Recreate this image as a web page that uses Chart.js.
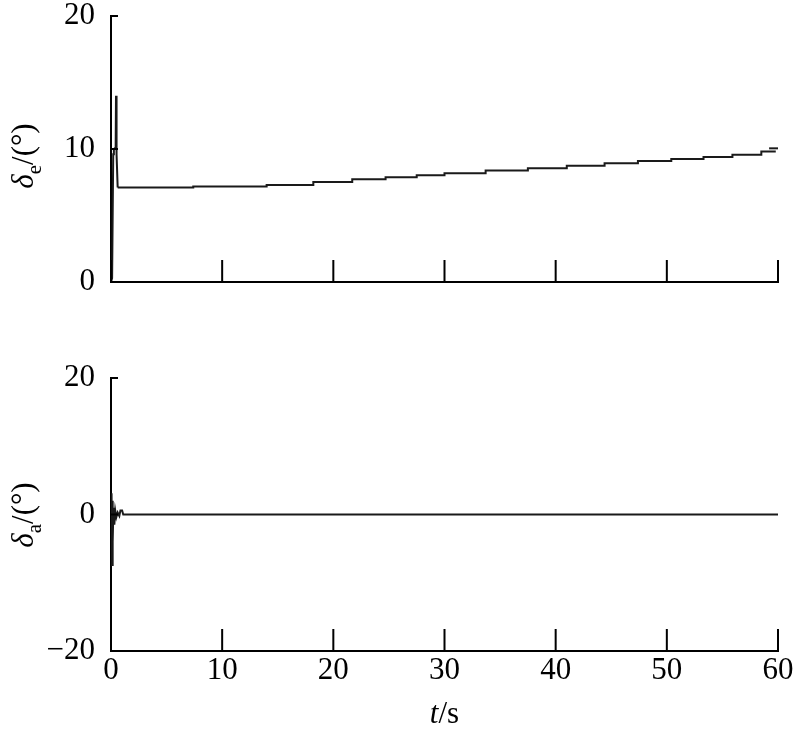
<!DOCTYPE html>
<html>
<head>
<meta charset="utf-8">
<script src="https://cdn.jsdelivr.net/npm/chart.js@4/dist/chart.umd.min.js"></script>
<style>
  body { margin: 0; background: #fff; }
  #wrap { position: relative; width: 800px; height: 734px; }
  #topBox { position: absolute; left: 0; top: 0; width: 800px; height: 330px; }
  #botBox { position: absolute; left: 0; top: 330px; width: 800px; height: 404px; }
</style>
</head>
<body>
<div id="wrap">
  <div id="topBox"><canvas id="elevChart" width="800" height="330"></canvas></div>
  <div id="botBox"><canvas id="aileChart" width="800" height="404"></canvas></div>
</div>
<script>
// time axis ticks (s)
var timeTicks = [0, 10, 20, 30, 40, 50, 60];

// elevator deflection, start-up transient
var elevStartT = [0, 0.1, 0.2, 0.26, 0.42, 0.45, 0.48, 0.52, 0.6];
var elevStartV = [0, 0.3, 9.6, 10.0, 10.1, 14.0, 10.0, 9.6, 7.1];

// elevator deflection, slow staircase
var elevStepT = [0.6, 7.4, 14.0, 18.2, 21.7, 24.7, 27.5, 30.0, 33.7, 37.5, 41.0, 44.4, 47.4, 50.4, 53.3, 55.9, 58.5, 59.8];
var elevStepV = [7.1, 7.18, 7.3, 7.51, 7.73, 7.88, 8.03, 8.17, 8.39, 8.55, 8.74, 8.93, 9.10, 9.25, 9.39, 9.56, 9.81, 9.81];

// short mark at the right end
var elevEndT = [59.2, 60];
var elevEndV = [10.05, 10.05];

// aileron deflection
var aileT = [0, 0.05, 0.1, 0.13, 0.17, 0.22, 0.3, 0.38, 0.48, 0.6, 0.75, 0.85, 1.0, 1.1, 1.2, 60];
var aileV = [0, 3.1, -7.4, 2.0, -4.0, 1.0, -1.5, 0.6, -0.4, 0.3, -0.2, 0.6, 0.6, 0.0, 0.0, 0];

var elevTicks = [0, 10, 20];
var aileTicks = [-20, 0, 20];

var FONT = "Liberation Serif, Times New Roman, Times, serif";

function pts(t, v) {
    return t.map(function (x, i) { return { x: x, y: v[i] }; });
}

function lineSet(t, v, stepped) {
    return {
        data: pts(t, v),
        borderColor: '#1a1a1a',
        borderWidth: 2,
        pointRadius: 0,
        fill: false,
        tension: 0,
        stepped: stepped
    };
}

//inward tick marks
var inTicks = {
    id: 'inTicks',
    afterDraw: function (chart) {
        var ctx = chart.ctx;
        var area = chart.chartArea;
        var xs = chart.scales.x, ys = chart.scales.y;
        ctx.save();
        ctx.strokeStyle = '#000';
        ctx.lineWidth = 2;
        ctx.beginPath();
        timeTicks.forEach(function (t) {
            var px = xs.getPixelForValue(t);
            ctx.moveTo(px, area.bottom);
            ctx.lineTo(px, area.bottom - 22);
        });
        chart.options.plugins.inTicks.yTicks.forEach(function (v) {
            var py = ys.getPixelForValue(v);
            ctx.moveTo(area.left, py);
            ctx.lineTo(area.left + 7, py);
        });
        ctx.stroke();
        ctx.restore();
    }
};

//axis titles with italic symbol and subscript
var axisTitles = {
    id: 'axisTitles',
    afterDraw: function (chart) {
        var o = chart.options.plugins.axisTitles;
        var ctx = chart.ctx;
        var area = chart.chartArea;
        ctx.save();
        ctx.fillStyle = '#000';
        ctx.textBaseline = 'alphabetic';

        // y title, rotated
        var parts = [
            { s: '\u03b4', f: 'italic 31px ' + FONT, dy: 0 },
            { s: o.sub, f: '21px ' + FONT, dy: 8 },
            { s: '/(\u00b0)', f: '31px ' + FONT, dy: 0 }
        ];
        var w = 0;
        parts.forEach(function (p) { ctx.font = p.f; p.w = ctx.measureText(p.s).width; w += p.w; });
        ctx.translate(33, o.titleY);
        ctx.rotate(-Math.PI / 2);
        var x = -w / 2;
        parts.forEach(function (p) {
            ctx.font = p.f;
            ctx.fillText(p.s, x, p.dy);
            x += p.w;
        });
        ctx.restore();

        if (o.xTitle) {
            ctx.save();
            ctx.fillStyle = '#000';
            ctx.textBaseline = 'alphabetic';
            ctx.font = 'italic 31px ' + FONT;
            var w1 = ctx.measureText('t').width;
            ctx.font = '31px ' + FONT;
            var w2 = ctx.measureText('/s').width;
            var cx = (area.left + area.right) / 2;
            var x0 = cx - (w1 + w2) / 2;
            var yb = area.bottom + 72;
            ctx.font = 'italic 31px ' + FONT;
            ctx.fillText('t', x0, yb);
            ctx.font = '31px ' + FONT;
            ctx.fillText('/s', x0 + w1, yb);
            ctx.restore();
        }
    }
};

function fmtTick(v) {
    return String(v).replace('-', '\u2212');
}

function makeOptions(yMin, yMax, yTicks, sub, showX, pad, titleY) {
    return {
        responsive: false,
        animation: false,
        layout: { padding: pad },
        plugins: {
            legend: { display: false },
            tooltip: { enabled: false },
            inTicks: { yTicks: yTicks },
            axisTitles: { sub: sub, xTitle: showX, titleY: titleY }
        },
        scales: {
            x: {
                type: 'linear',
                min: 0,
                max: 60,
                afterBuildTicks: function (scale) {
                    scale.ticks = timeTicks.map(function (v) { return { value: v }; });
                },
                grid: { display: false },
                border: { display: true, color: '#000', width: 2 },
                ticks: {
                    display: showX,
                    color: '#000',
                    padding: -4,
                    maxRotation: 0,
                    font: { family: FONT, size: 31, lineHeight: 1 }
                },
                afterFit: function (scale) {
                    if (showX) scale.height = 83;
                }
            },
            y: {
                min: yMin,
                max: yMax,
                afterBuildTicks: function (scale) {
                    scale.ticks = yTicks.map(function (v) { return { value: v }; });
                },
                grid: { display: false },
                border: { display: true, color: '#000', width: 2 },
                ticks: {
                    color: '#000',
                    padding: 8,
                    font: { family: FONT, size: 31, lineHeight: 0.5 },
                    callback: fmtTick
                },
                afterFit: function (scale) {
                    scale.width = 111;
                }
            }
        }
    };
}

new Chart('elevChart', {
    type: 'line',
    data: {
        datasets: [
            lineSet(elevStartT, elevStartV, false),
            lineSet(elevStepT, elevStepV, 'before'),
            lineSet(elevEndT, elevEndV, false)
        ]
    },
    options: makeOptions(0, 20, elevTicks, 'e', false, { top: 16, right: 22, bottom: 40, left: 0 }, 156),
    plugins: [inTicks, axisTitles]
});

new Chart('aileChart', {
    type: 'line',
    data: {
        datasets: [
            lineSet(aileT, aileV, false)
        ]
    },
    options: makeOptions(-20, 20, aileTicks, 'a', true, { top: 48, right: 22, bottom: 0, left: 0 }, 185),
    plugins: [inTicks, axisTitles]
});
</script>
</body>
</html>
